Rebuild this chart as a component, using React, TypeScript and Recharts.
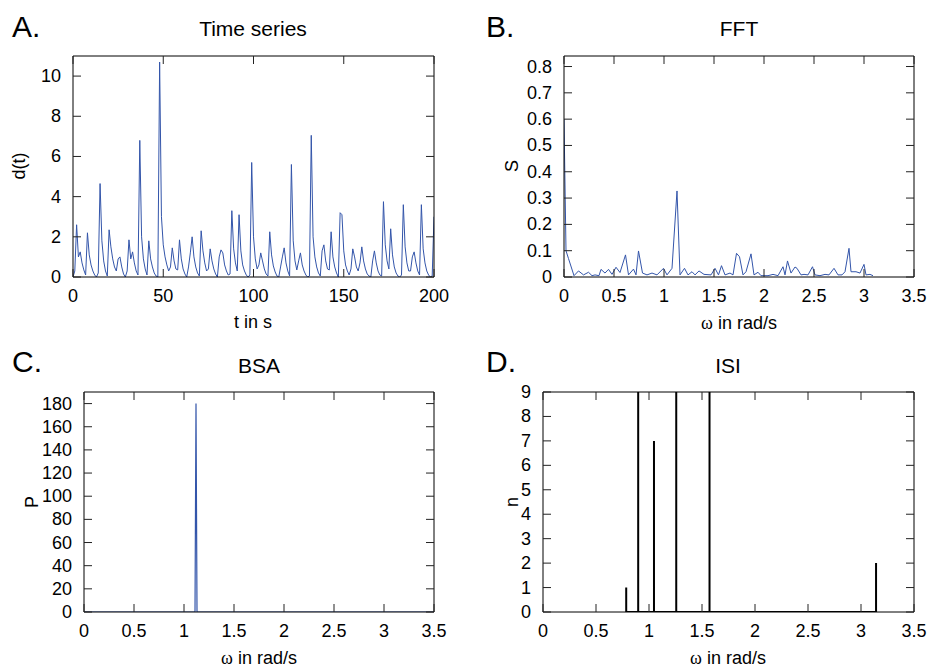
import React from "react";
import { LineChart, Line, XAxis, YAxis } from "recharts";

const FONT = '"Liberation Sans", Arial, Helvetica, sans-serif';
const BLUE = "#3355aa";

// A. time series d(t), one sample per second (t = 0..200)
const timeValues = [
  0.0, 0.3, 2.6, 1.0, 1.25, 0.7, 0.35, 0.1, 2.2, 1.1,
  0.6, 0.3, 0.1, 0.0, 0.2, 4.65, 1.8, 0.8, 0.3, 0.05,
  2.35, 1.5, 0.9, 0.5, 0.3, 0.9, 1.0, 0.5, 0.15, 0.0,
  0.3, 1.85, 0.9, 1.25, 0.7, 0.3, 0.1, 6.8, 2.0, 0.9,
  0.4, 0.1, 1.8, 0.9, 0.5, 0.2, 0.05, 0.0, 10.7, 3.0,
  1.6, 1.0, 0.6, 0.3, 0.5, 1.45, 0.8, 0.4, 0.35, 1.85,
  0.9, 0.4, 0.15, 0.0, 0.5, 1.2, 2.0, 1.0, 0.5, 0.2,
  0.05, 2.3, 1.3, 0.7, 0.3, 0.4, 1.4, 0.8, 0.4, 0.15,
  0.0, 1.0, 1.35, 1.2, 0.6, 0.3, 0.1, 0.15, 3.3, 1.4,
  0.7, 0.3, 3.1, 1.3, 0.6, 0.3, 0.1, 0.0, 0.1, 5.7,
  2.0, 0.9, 0.4, 0.6, 1.2, 0.8, 0.4, 0.15, 0.05, 2.25,
  1.1, 0.55, 0.25, 0.05, 0.0, 0.5, 1.0, 1.45, 0.7, 0.3,
  0.05, 5.6, 1.8, 0.8, 0.35, 0.8, 1.2, 0.6, 0.3, 0.1,
  0.0, 0.05, 7.05, 2.0, 1.0, 0.5, 0.2, 0.05, 1.3, 1.6,
  0.8, 0.4, 0.35, 2.25, 1.0, 0.5, 0.2, 0.0, 3.2, 3.1,
  1.3, 0.6, 0.3, 0.1, 0.4, 1.4, 1.0, 0.5, 0.3, 0.7,
  1.5, 0.8, 0.4, 0.15, 0.05, 0.0, 0.8, 1.3, 0.7, 0.3,
  0.1, 0.05, 3.75, 1.6, 0.8, 0.4, 2.4, 1.1, 0.5, 0.2,
  0.05, 0.0, 0.1, 3.6, 1.5, 0.7, 0.3, 0.3, 1.0, 1.25,
  0.7, 0.3, 0.1, 3.6, 1.4, 0.7, 0.3, 0.1, 0.0, 0.05,
  3.0,
];

// B. FFT spectrum
const fftFreq = [
  0, 0.02, 0.045, 0.1, 0.145, 0.195, 0.245, 0.28, 0.31, 0.35,
  0.37, 0.41, 0.445, 0.48, 0.52, 0.56, 0.615, 0.645, 0.695, 0.72,
  0.745, 0.785, 0.83, 0.88, 0.93, 0.995, 1.03, 1.08, 1.13, 1.16,
  1.205, 1.24, 1.28, 1.31, 1.35, 1.4, 1.47, 1.51, 1.545, 1.575,
  1.61, 1.66, 1.69, 1.725, 1.755, 1.79, 1.82, 1.87, 1.9, 1.94,
  1.97, 2.04, 2.09, 2.14, 2.19, 2.21, 2.235, 2.27, 2.31, 2.33,
  2.37, 2.4, 2.44, 2.485, 2.51, 2.56, 2.61, 2.65, 2.7, 2.74,
  2.78, 2.81, 2.85, 2.87, 2.92, 2.96, 3.0, 3.02, 3.06, 3.09,
];
const fftPower = [
  0.6, 0.1, 0.07, 0.005, 0.023, 0.008, 0.018, 0.005, 0.008, 0.005,
  0.029, 0.015, 0.029, 0.01, 0.037, 0.017, 0.084, 0.008, 0.03, 0.008,
  0.099, 0.015, 0.008, 0.015, 0.008, 0.033, 0.008, 0.033, 0.327, 0.008,
  0.033, 0.008, 0.02, 0.008, 0.023, 0.01, 0.008, 0.033, 0.008, 0.043,
  0.008, 0.015, 0.008, 0.09, 0.077, 0.008, 0.02, 0.088, 0.008, 0.018,
  0.005, 0.005, 0.01, 0.005, 0.039, 0.008, 0.061, 0.015, 0.038, 0.033,
  0.008, 0.01, 0.008, 0.039, 0.008, 0.005, 0.01, 0.008, 0.033, 0.008,
  0.008, 0.02, 0.109, 0.02, 0.02, 0.015, 0.048, 0.008, 0.01, 0.005,
];

// C. BSA
const bsaFreq = [0, 1.11, 1.12, 1.13, 3.5];
const bsaPower = [0, 0, 180, 0, 0];

// D. ISI histogram
const isiFreq = [0.785, 0.898, 1.047, 1.257, 1.571, 3.142];
const isiCount = [1, 9, 7, 9, 9, 2];

const timeTicks = [0, 50, 100, 150, 200];
const dTicks = [0, 2, 4, 6, 8, 10];
const omegaTicks = [0, 0.5, 1, 1.5, 2, 2.5, 3, 3.5];
const sTicks = [0, 0.1, 0.2, 0.3, 0.4, 0.5, 0.6, 0.7, 0.8];
const pTicks = [0, 20, 40, 60, 80, 100, 120, 140, 160, 180];
const nTicks = [0, 1, 2, 3, 4, 5, 6, 7, 8, 9];

const tsData = timeValues.map((d, t) => ({ x: t, y: d }));
const fftData = fftFreq.map((w, i) => ({ x: w, y: fftPower[i] }));
const bsaData = bsaFreq.map((w, i) => ({ x: w, y: bsaPower[i] }));
// impulses: each bin drawn up from zero and back
const isiData = isiFreq.flatMap((w, i) => [
  { x: w, y: 0 },
  { x: w, y: isiCount[i] },
  { x: w, y: 0 },
]);

const TICK_LEN = 8;
const TICK_COLOR = "#222";

// gnuplot style ticks: pointing inward, labels only on bottom/left
const makeTick = (side: "bottom" | "top" | "left" | "right") => (props: any) => {
  const { x, y, payload } = props;
  if (side === "bottom") {
    return (
      <g>
        <line x1={x} x2={x} y1={y} y2={y - TICK_LEN} stroke={TICK_COLOR} />
        <text x={x} y={y + 19} textAnchor="middle" dominantBaseline="central" fontSize={18} fontFamily={FONT} fill="#000">
          {payload.value}
        </text>
      </g>
    );
  }
  if (side === "left") {
    return (
      <g>
        <line x1={x} x2={x + TICK_LEN} y1={y} y2={y} stroke={TICK_COLOR} />
        <text x={x - 12} y={y} textAnchor="end" dominantBaseline="central" fontSize={18} fontFamily={FONT} fill="#000">
          {payload.value}
        </text>
      </g>
    );
  }
  if (side === "top") {
    return <line x1={x} x2={x} y1={y} y2={y + TICK_LEN} stroke={TICK_COLOR} />;
  }
  return <line x1={x} x2={x - TICK_LEN} y1={y} y2={y} stroke={TICK_COLOR} />;
};

interface PanelProps {
  left: number;
  top: number;
  width: number;
  height: number;
  plot: { l: number; r: number; t: number; b: number };
  data: Array<{ x: number; y: number }>;
  xDomain: [number, number];
  xTicks: number[];
  yDomain: [number, number];
  yTicks: number[];
  color: string;
  strokeWidth: number;
}

function Panel({ left, top, width, height, plot, data, xDomain, xTicks, yDomain, yTicks, color, strokeWidth }: PanelProps) {
  const common = { tickSize: 0, tickMargin: 0, tickLine: false, stroke: "#000", interval: 0 as const, allowDataOverflow: true };
  return (
    <div style={{ position: "absolute", left, top }}>
      <LineChart
        width={width}
        height={height}
        data={data}
        margin={{ top: plot.t - 1, right: width - plot.r - 1, left: 0, bottom: 0 }}
      >
        <XAxis {...common} dataKey="x" type="number" domain={xDomain} ticks={xTicks} height={height - plot.b} tick={makeTick("bottom")} />
        <XAxis {...common} xAxisId="top" orientation="top" dataKey="x" type="number" domain={xDomain} ticks={xTicks} height={1} tick={makeTick("top")} />
        <YAxis {...common} type="number" domain={yDomain} ticks={yTicks} width={plot.l} tick={makeTick("left")} />
        <YAxis {...common} yAxisId="right" orientation="right" type="number" domain={yDomain} ticks={yTicks} width={1} tick={makeTick("right")} />
        {/* invisible copy so the mirror axes have a series bound to them */}
        <Line xAxisId="top" yAxisId="right" dataKey="y" stroke="none" dot={false} isAnimationActive={false} />
        <Line
          dataKey="y"
          type="linear"
          stroke={color}
          strokeWidth={strokeWidth}
          dot={false}
          isAnimationActive={false}
        />
      </LineChart>
    </div>
  );
}

function Txt({ x, y, size, children, rotate }: { x: number; y: number; size: number; children: React.ReactNode; rotate?: boolean }) {
  return (
    <div
      style={{
        position: "absolute",
        left: x,
        top: y,
        fontSize: size,
        lineHeight: 1,
        whiteSpace: "nowrap",
        fontFamily: FONT,
        color: "#000",
        transform: `translate(-50%, -50%)${rotate ? " rotate(-90deg)" : ""}`,
      }}
    >
      {children}
    </div>
  );
}

function Letter({ x, y, children }: { x: number; y: number; children: React.ReactNode }) {
  return (
    <div style={{ position: "absolute", left: x, top: y, fontSize: 30, lineHeight: 1, fontFamily: FONT, color: "#000" }}>
      {children}
    </div>
  );
}

const Omega = () => (
  <span>
    <span style={{ fontFamily: '"Liberation Serif", "DejaVu Serif", serif' }}>ω</span> in rad/s
  </span>
);

export default function App() {
  return (
    <div style={{ position: "absolute", left: 0, top: 0, width: 929, height: 671, background: "#fff", overflow: "hidden" }}>
      <Panel
        left={0} top={0} width={460} height={320}
        plot={{ l: 73, r: 434, t: 56, b: 277 }}
        data={tsData} xDomain={[0, 200]} xTicks={timeTicks}
        yDomain={[0, 11]} yTicks={dTicks} color={BLUE} strokeWidth={1}
      />
      <Panel
        left={470} top={0} width={459} height={320}
        plot={{ l: 94, r: 444, t: 56, b: 277 }}
        data={fftData} xDomain={[0, 3.5]} xTicks={omegaTicks}
        yDomain={[0, 0.84]} yTicks={sTicks} color={BLUE} strokeWidth={1}
      />
      <Panel
        left={0} top={335} width={460} height={336}
        plot={{ l: 84, r: 434, t: 57, b: 277 }}
        data={bsaData} xDomain={[0, 3.5]} xTicks={omegaTicks}
        yDomain={[0, 190]} yTicks={pTicks} color={BLUE} strokeWidth={1.2}
      />
      <Panel
        left={470} top={335} width={459} height={336}
        plot={{ l: 73, r: 444, t: 57, b: 277 }}
        data={isiData} xDomain={[0, 3.5]} xTicks={omegaTicks}
        yDomain={[0, 9]} yTicks={nTicks} color="#000" strokeWidth={2}
      />

      <Letter x={12} y={12}>A.</Letter>
      <Letter x={486} y={12}>B.</Letter>
      <Letter x={12} y={347}>C.</Letter>
      <Letter x={486} y={347}>D.</Letter>

      <Txt x={253} y={28} size={21}>Time series</Txt>
      <Txt x={739} y={28} size={21}>FFT</Txt>
      <Txt x={259} y={365} size={21}>BSA</Txt>
      <Txt x={728} y={365} size={21}>ISI</Txt>

      <Txt x={19} y={166} size={18} rotate>d(t)</Txt>
      <Txt x={253} y={322} size={18}>t in s</Txt>
      <Txt x={512} y={166} size={18} rotate>S</Txt>
      <Txt x={739} y={323} size={18}><Omega /></Txt>
      <Txt x={32} y={502} size={18} rotate>P</Txt>
      <Txt x={259} y={658} size={18}><Omega /></Txt>
      <Txt x={512} y={502} size={18} rotate>n</Txt>
      <Txt x={728} y={658} size={18}><Omega /></Txt>
    </div>
  );
}
